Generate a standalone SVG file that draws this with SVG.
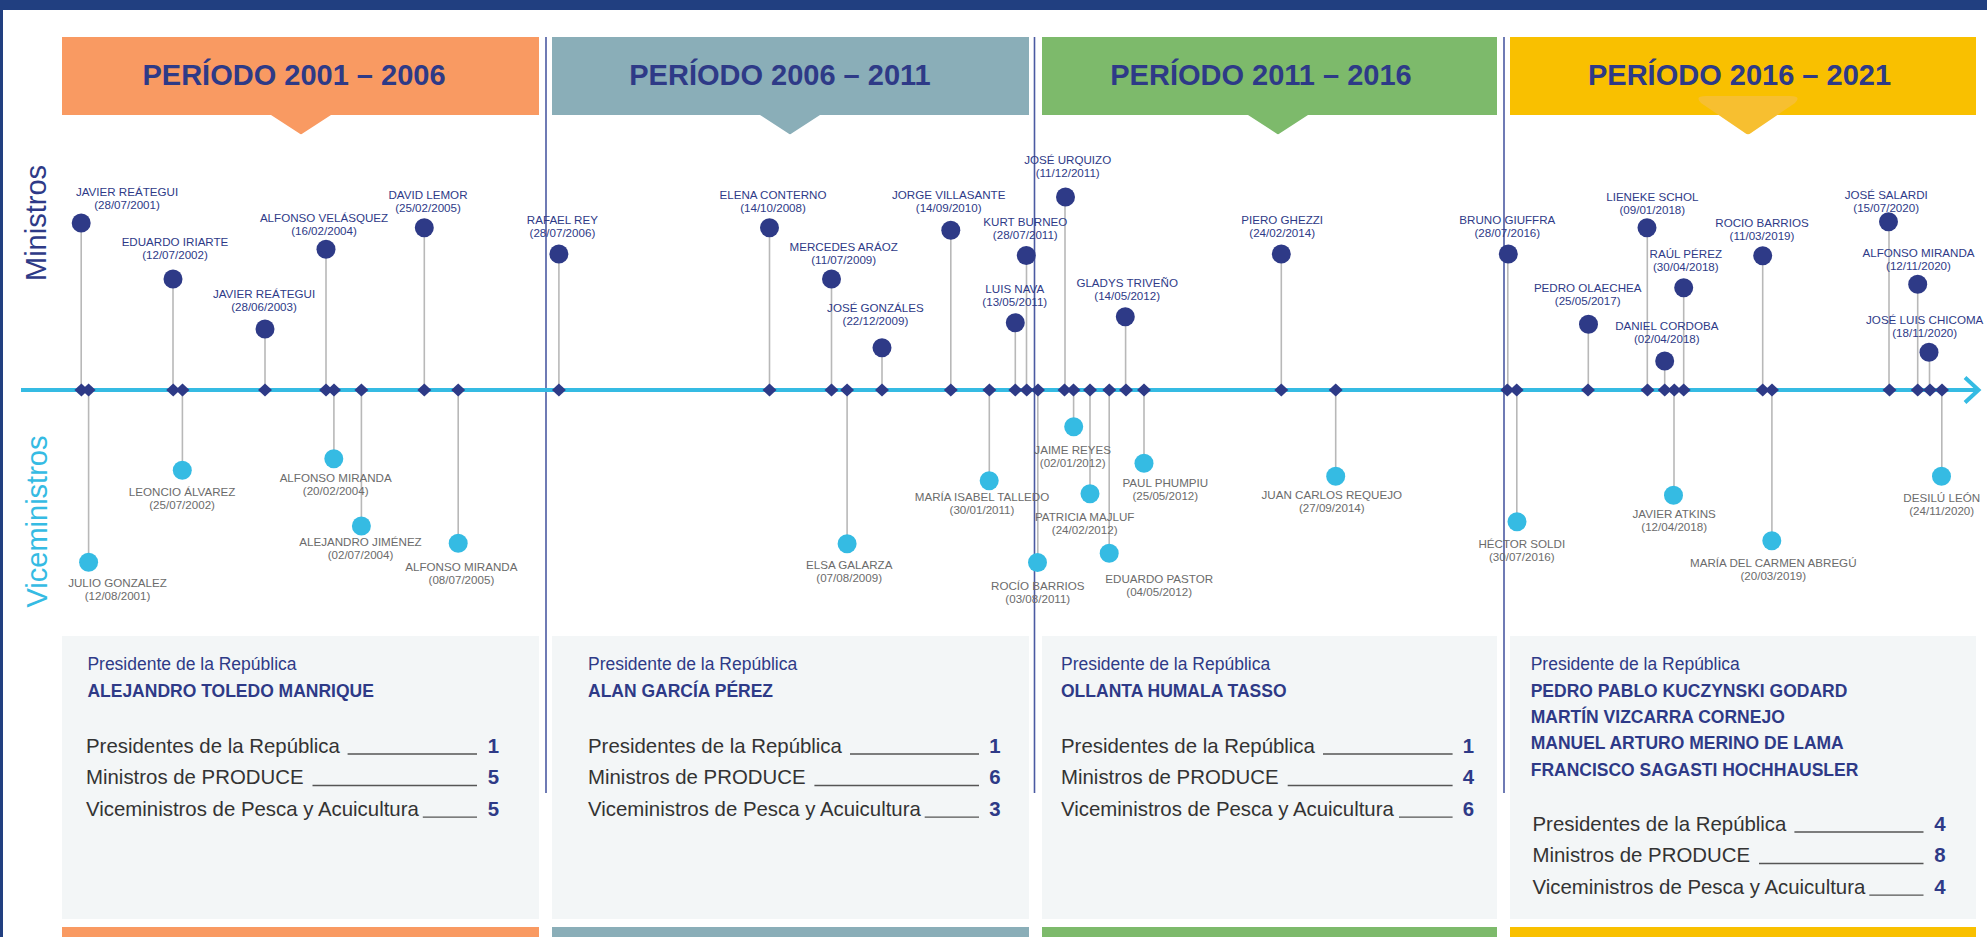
<svg xmlns="http://www.w3.org/2000/svg" xmlns:xlink="http://www.w3.org/1999/xlink" width="1987" height="937" viewBox="0 0 1987 937">
<style>
.hdr{font-family:'Liberation Sans',Arial,sans-serif;font-weight:bold;font-size:29px;fill:#2e3a87;text-anchor:middle}
.side-m{font-family:'Liberation Sans',Arial,sans-serif;font-size:29px;fill:#2e3a87;text-anchor:middle}
.side-v{font-family:'Liberation Sans',Arial,sans-serif;font-size:29px;fill:#35bbe3;text-anchor:middle}
.ml{font-family:'Liberation Sans',Arial,sans-serif;font-size:11.6px;fill:#2e3a87;text-anchor:middle}
.vl{font-family:'Liberation Sans',Arial,sans-serif;font-size:11.6px;fill:#6b6b6b;text-anchor:middle}
.stem{stroke:#b8b8b8;stroke-width:1.6}
.dm{fill:#2e3a87}
.cm{fill:#2e3a87}
.cv{fill:#35bbe3}
.div{stroke:#4b5aa2;stroke-width:1.6}
.pl{font-family:'Liberation Sans',Arial,sans-serif;font-size:17.5px;fill:#2e3a87}
.pn{font-family:'Liberation Sans',Arial,sans-serif;font-weight:bold;font-size:17.5px;fill:#2e3a87}
.st{font-family:'Liberation Sans',Arial,sans-serif;font-size:20.4px;fill:#333333}
.sn{font-family:'Liberation Sans',Arial,sans-serif;font-weight:bold;font-size:20.4px;fill:#2e3a87;text-anchor:middle}
.ul{stroke:#555555;stroke-width:1.3}
.box{fill:#f3f6f7}
</style>
<defs>
<path id="dia" d="M0,-6.5 L7,0 L0,6.5 L-7,0 Z" class="dm"/>
</defs>
<rect x="0" y="0" width="1987" height="937" fill="#ffffff"/>
<rect x="0" y="0" width="1987" height="10" fill="#213f80"/>
<rect x="0" y="0" width="3" height="937" fill="#213f80"/>

<g id="period-headers">
<g id="hdr-2001">
<rect x="62" y="37" width="477" height="78" fill="#f99a62"/>
<path d="M271,115 L331,115 L302.5,133.5 Q301,134.8 299.5,133.5 Z" fill="#f99a62"/>
<text class="hdr" x="294" y="85">PERÍODO 2001 – 2006</text>
</g>
<g id="hdr-2006">
<rect x="552" y="37" width="477" height="78" fill="#8aaeb8"/>
<path d="M760,115 L820,115 L791.5,133.5 Q790,134.8 788.5,133.5 Z" fill="#8aaeb8"/>
<text class="hdr" x="780" y="85">PERÍODO 2006 – 2011</text>
</g>
<g id="hdr-2011">
<rect x="1042" y="37" width="455" height="78" fill="#7dba6b"/>
<path d="M1248,115 L1308,115 L1279.5,133.5 Q1278,134.8 1276.5,133.5 Z" fill="#7dba6b"/>
<text class="hdr" x="1261" y="85">PERÍODO 2011 – 2016</text>
</g>
<g id="hdr-2016">
<rect x="1510" y="37" width="466" height="78" fill="#f9c000"/>
<path d="M1706,96 H1790 Q1802,96 1795,103 L1751,133 Q1748,135.5 1745,133 L1701,103 Q1694,96 1706,96 Z" fill="#f7bf30"/>
<text class="hdr" x="1739.5" y="85">PERÍODO 2016 – 2021</text>
</g>
</g>

<g id="summary-boxes">
<g id="box-2001">
<rect class="box" x="62" y="636" width="477" height="283"/>
<rect x="62" y="927" width="477" height="10" fill="#f99a62"/>
<text class="pl" x="87.4" y="670">Presidente de la República</text>
<text class="pn" x="87.4" y="697.3">ALEJANDRO TOLEDO MANRIQUE</text>
<text class="st" x="86" y="752.7">Presidentes de la República</text>
<text class="st" x="86" y="784.3">Ministros de PRODUCE</text>
<text class="st" x="86" y="816">Viceministros de Pesca y Acuicultura</text>
<line class="ul" x1="347.6" y1="754" x2="477" y2="754"/>
<line class="ul" x1="312.5" y1="785.5" x2="477" y2="785.5"/>
<line class="ul" x1="422.8" y1="817.2" x2="477" y2="817.2"/>
<text class="sn" x="493.5" y="752.7">1</text>
<text class="sn" x="493.5" y="784.3">5</text>
<text class="sn" x="493.5" y="816">5</text>
</g>
<g id="box-2006">
<rect class="box" x="552" y="636" width="477" height="283"/>
<rect x="552" y="927" width="477" height="10" fill="#8aaeb8"/>
<text class="pl" x="588" y="670">Presidente de la República</text>
<text class="pn" x="588" y="697.3">ALAN GARCÍA PÉREZ</text>
<text class="st" x="588" y="752.7">Presidentes de la República</text>
<text class="st" x="588" y="784.3">Ministros de PRODUCE</text>
<text class="st" x="588" y="816">Viceministros de Pesca y Acuicultura</text>
<line class="ul" x1="850" y1="754" x2="979" y2="754"/>
<line class="ul" x1="814.4" y1="785.5" x2="979" y2="785.5"/>
<line class="ul" x1="924.7" y1="817.2" x2="979" y2="817.2"/>
<text class="sn" x="995" y="752.7">1</text>
<text class="sn" x="995" y="784.3">6</text>
<text class="sn" x="995" y="816">3</text>
</g>
<g id="box-2011">
<rect class="box" x="1042" y="636" width="455" height="283"/>
<rect x="1042" y="927" width="455" height="10" fill="#7dba6b"/>
<text class="pl" x="1061" y="670">Presidente de la República</text>
<text class="pn" x="1061" y="697.3">OLLANTA HUMALA TASSO</text>
<text class="st" x="1061" y="752.7">Presidentes de la República</text>
<text class="st" x="1061" y="784.3">Ministros de PRODUCE</text>
<text class="st" x="1061" y="816">Viceministros de Pesca y Acuicultura</text>
<line class="ul" x1="1323" y1="754" x2="1452.6" y2="754"/>
<line class="ul" x1="1287.7" y1="785.5" x2="1452.6" y2="785.5"/>
<line class="ul" x1="1399" y1="817.2" x2="1452.6" y2="817.2"/>
<text class="sn" x="1468.5" y="752.7">1</text>
<text class="sn" x="1468.5" y="784.3">4</text>
<text class="sn" x="1468.5" y="816">6</text>
</g>
<g id="box-2016">
<rect class="box" x="1510" y="636" width="466" height="283"/>
<rect x="1510" y="927" width="466" height="10" fill="#f9c000"/>
<text class="pl" x="1530.7" y="670">Presidente de la República</text>
<text class="pn" x="1530.7" y="697.3">PEDRO PABLO KUCZYNSKI GODARD</text>
<text class="pn" x="1530.7" y="723.3">MARTÍN VIZCARRA CORNEJO</text>
<text class="pn" x="1530.7" y="749.3">MANUEL ARTURO MERINO DE LAMA</text>
<text class="pn" x="1530.7" y="775.7">FRANCISCO SAGASTI HOCHHAUSLER</text>
<text class="st" x="1532.5" y="830.7">Presidentes de la República</text>
<text class="st" x="1532.5" y="862.3">Ministros de PRODUCE</text>
<text class="st" x="1532.5" y="894">Viceministros de Pesca y Acuicultura</text>
<line class="ul" x1="1794.4" y1="832" x2="1923.5" y2="832"/>
<line class="ul" x1="1759" y1="863.5" x2="1923.5" y2="863.5"/>
<line class="ul" x1="1869.3" y1="895.2" x2="1923.5" y2="895.2"/>
<text class="sn" x="1940" y="830.7">4</text>
<text class="sn" x="1940" y="862.3">8</text>
<text class="sn" x="1940" y="894">4</text>
</g>
</g>

<g id="dividers">
<line class="div" x1="546" y1="37" x2="546" y2="793"/>
<line class="div" x1="1034.5" y1="37" x2="1034.5" y2="793"/>
<line class="div" x1="1504" y1="37" x2="1504" y2="793"/>
</g>

<g id="side-labels">
<text class="side-m" transform="translate(46,223) rotate(-90)">Ministros</text>
<text class="side-v" transform="translate(47,521.5) rotate(-90)">Viceministros</text>
</g>

<g id="connectors">
<line x1="21" y1="390" x2="1977" y2="390" stroke="#35bbe3" stroke-width="4"/>
<polyline points="1965,377.5 1978.5,390 1965,402.5" fill="none" stroke="#35bbe3" stroke-width="4" stroke-linejoin="miter"/>
<line class="stem" x1="81.2" y1="223" x2="81.2" y2="390"/>
<line class="stem" x1="173" y1="279" x2="173" y2="390"/>
<line class="stem" x1="265" y1="329" x2="265" y2="390"/>
<line class="stem" x1="326" y1="249.3" x2="326" y2="390"/>
<line class="stem" x1="424.3" y1="227.7" x2="424.3" y2="390"/>
<line class="stem" x1="558.9" y1="254" x2="558.9" y2="390"/>
<line class="stem" x1="769.5" y1="227.7" x2="769.5" y2="390"/>
<line class="stem" x1="831.5" y1="279" x2="831.5" y2="390"/>
<line class="stem" x1="882" y1="347.7" x2="882" y2="390"/>
<line class="stem" x1="950.8" y1="230.3" x2="950.8" y2="390"/>
<line class="stem" x1="1015.3" y1="322.7" x2="1015.3" y2="390"/>
<line class="stem" x1="1026.5" y1="255.5" x2="1026.5" y2="390"/>
<line class="stem" x1="1065" y1="197" x2="1065" y2="390"/>
<line class="stem" x1="1125.6" y1="316.7" x2="1125.6" y2="390"/>
<line class="stem" x1="1281.3" y1="254" x2="1281.3" y2="390"/>
<line class="stem" x1="1507.8" y1="254" x2="1507.8" y2="390"/>
<line class="stem" x1="1588.3" y1="324.3" x2="1588.3" y2="390"/>
<line class="stem" x1="1647.3" y1="227.7" x2="1647.3" y2="390"/>
<line class="stem" x1="1664.7" y1="361" x2="1664.7" y2="390"/>
<line class="stem" x1="1683.7" y1="287.7" x2="1683.7" y2="390"/>
<line class="stem" x1="1762.7" y1="255.7" x2="1762.7" y2="390"/>
<line class="stem" x1="1889" y1="221.7" x2="1889" y2="390"/>
<line class="stem" x1="1917.7" y1="284.3" x2="1917.7" y2="390"/>
<line class="stem" x1="1929.5" y1="352.3" x2="1929.5" y2="390"/>
<line class="stem" x1="88.6" y1="390" x2="88.6" y2="562.3"/>
<line class="stem" x1="182.4" y1="390" x2="182.4" y2="470.3"/>
<line class="stem" x1="333.9" y1="390" x2="333.9" y2="458.7"/>
<line class="stem" x1="361.4" y1="390" x2="361.4" y2="526"/>
<line class="stem" x1="458.2" y1="390" x2="458.2" y2="543.3"/>
<line class="stem" x1="847.1" y1="390" x2="847.1" y2="543.7"/>
<line class="stem" x1="989.3" y1="390" x2="989.3" y2="480.7"/>
<line class="stem" x1="1037.8" y1="390" x2="1037.8" y2="562.5"/>
<line class="stem" x1="1073.6" y1="390" x2="1073.6" y2="426.7"/>
<line class="stem" x1="1090" y1="390" x2="1090" y2="493.7"/>
<line class="stem" x1="1109.2" y1="390" x2="1109.2" y2="553.3"/>
<line class="stem" x1="1144" y1="390" x2="1144" y2="463.3"/>
<line class="stem" x1="1335.7" y1="390" x2="1335.7" y2="476.3"/>
<line class="stem" x1="1516.8" y1="390" x2="1516.8" y2="521.7"/>
<line class="stem" x1="1674" y1="390" x2="1674" y2="495.3"/>
<line class="stem" x1="1771.9" y1="390" x2="1771.9" y2="540.7"/>
<line class="stem" x1="1941.8" y1="390" x2="1941.8" y2="476.3"/>
</g>

<g id="ministros">
<g id="m01"><use xlink:href="#dia" x="81.4" y="390"/><circle class="cm" cx="81.2" cy="223" r="9.5"/><text class="ml" x="127" y="195.5">JAVIER REÁTEGUI</text><text class="ml" x="127" y="208.5">(28/07/2001)</text></g>
<g id="m02"><use xlink:href="#dia" x="173.2" y="390"/><circle class="cm" cx="173" cy="279" r="9.5"/><text class="ml" x="175" y="245.5">EDUARDO IRIARTE</text><text class="ml" x="175" y="258.5">(12/07/2002)</text></g>
<g id="m03"><use xlink:href="#dia" x="265" y="390"/><circle class="cm" cx="265" cy="329" r="9.5"/><text class="ml" x="264" y="297.5">JAVIER REÁTEGUI</text><text class="ml" x="264" y="310.5">(28/06/2003)</text></g>
<g id="m04"><use xlink:href="#dia" x="326" y="390"/><circle class="cm" cx="326" cy="249.3" r="9.5"/><text class="ml" x="324" y="221.5">ALFONSO VELÁSQUEZ</text><text class="ml" x="324" y="234.5">(16/02/2004)</text></g>
<g id="m05"><use xlink:href="#dia" x="424.3" y="390"/><circle class="cm" cx="424.3" cy="227.7" r="9.5"/><text class="ml" x="428" y="199.3">DAVID LEMOR</text><text class="ml" x="428" y="212.3">(25/02/2005)</text></g>
<g id="m06"><use xlink:href="#dia" x="558.9" y="390"/><circle class="cm" cx="558.9" cy="254" r="9.5"/><text class="ml" x="562.4" y="224.3">RAFAEL REY</text><text class="ml" x="562.4" y="237.3">(28/07/2006)</text></g>
<g id="m07"><use xlink:href="#dia" x="769.5" y="390"/><circle class="cm" cx="769.5" cy="227.7" r="9.5"/><text class="ml" x="773" y="199.3">ELENA CONTERNO</text><text class="ml" x="773" y="212.3">(14/10/2008)</text></g>
<g id="m08"><use xlink:href="#dia" x="831.5" y="390"/><circle class="cm" cx="831.5" cy="279" r="9.5"/><text class="ml" x="843.7" y="250.7">MERCEDES ARÁOZ</text><text class="ml" x="843.7" y="263.7">(11/07/2009)</text></g>
<g id="m09"><use xlink:href="#dia" x="882" y="390"/><circle class="cm" cx="882" cy="347.7" r="9.5"/><text class="ml" x="875.4" y="312">JOSÉ GONZÁLES</text><text class="ml" x="875.4" y="325">(22/12/2009)</text></g>
<g id="m10"><use xlink:href="#dia" x="950.8" y="390"/><circle class="cm" cx="950.8" cy="230.3" r="9.5"/><text class="ml" x="948.7" y="199.3">JORGE VILLASANTE</text><text class="ml" x="948.7" y="212.3">(14/09/2010)</text></g>
<g id="m11"><use xlink:href="#dia" x="1015.3" y="390"/><circle class="cm" cx="1015.3" cy="322.7" r="9.5"/><text class="ml" x="1014.8" y="293.3">LUIS NAVA</text><text class="ml" x="1014.8" y="306.3">(13/05/2011)</text></g>
<g id="m12"><use xlink:href="#dia" x="1026.7" y="390"/><circle class="cm" cx="1026.3" cy="255.5" r="9.5"/><text class="ml" x="1025.3" y="226">KURT BURNEO</text><text class="ml" x="1025.3" y="239">(28/07/2011)</text></g>
<g id="m13"><use xlink:href="#dia" x="1064.5" y="390"/><circle class="cm" cx="1065.5" cy="197" r="9.5"/><text class="ml" x="1067.7" y="164.3">JOSÉ URQUIZO</text><text class="ml" x="1067.7" y="177.3">(11/12/2011)</text></g>
<g id="m14"><use xlink:href="#dia" x="1126" y="390"/><circle class="cm" cx="1125.3" cy="316.7" r="9.5"/><text class="ml" x="1127.2" y="286.7">GLADYS TRIVEÑO</text><text class="ml" x="1127.2" y="299.7">(14/05/2012)</text></g>
<g id="m15"><use xlink:href="#dia" x="1281.3" y="390"/><circle class="cm" cx="1281.3" cy="254" r="9.5"/><text class="ml" x="1282.2" y="224.3">PIERO GHEZZI</text><text class="ml" x="1282.2" y="237.3">(24/02/2014)</text></g>
<g id="m16"><use xlink:href="#dia" x="1507.3" y="390"/><circle class="cm" cx="1508.3" cy="254" r="9.5"/><text class="ml" x="1507.3" y="224.3">BRUNO GIUFFRA</text><text class="ml" x="1507.3" y="237.3">(28/07/2016)</text></g>
<g id="m17"><use xlink:href="#dia" x="1588" y="390"/><circle class="cm" cx="1588.5" cy="324.3" r="9.5"/><text class="ml" x="1587.7" y="292">PEDRO OLAECHEA</text><text class="ml" x="1587.7" y="305">(25/05/2017)</text></g>
<g id="m18"><use xlink:href="#dia" x="1647.5" y="390"/><circle class="cm" cx="1647" cy="227.7" r="9.5"/><text class="ml" x="1652.3" y="201.3">LIENEKE SCHOL</text><text class="ml" x="1652.3" y="214.3">(09/01/2018)</text></g>
<g id="m19"><use xlink:href="#dia" x="1664.7" y="390"/><circle class="cm" cx="1664.7" cy="361" r="9.5"/><text class="ml" x="1666.8" y="329.7">DANIEL CORDOBA</text><text class="ml" x="1666.8" y="342.7">(02/04/2018)</text></g>
<g id="m20"><use xlink:href="#dia" x="1683.7" y="390"/><circle class="cm" cx="1683.7" cy="287.7" r="9.5"/><text class="ml" x="1685.8" y="258.3">RAÚL PÉREZ</text><text class="ml" x="1685.8" y="271.3">(30/04/2018)</text></g>
<g id="m21"><use xlink:href="#dia" x="1762.7" y="390"/><circle class="cm" cx="1762.7" cy="255.7" r="9.5"/><text class="ml" x="1762" y="226.7">ROCIO BARRIOS</text><text class="ml" x="1762" y="239.7">(11/03/2019)</text></g>
<g id="m22"><use xlink:href="#dia" x="1889.5" y="390"/><circle class="cm" cx="1888.5" cy="221.7" r="9.5"/><text class="ml" x="1886.2" y="198.7">JOSÉ SALARDI</text><text class="ml" x="1886.2" y="211.7">(15/07/2020)</text></g>
<g id="m23"><use xlink:href="#dia" x="1917.7" y="390"/><circle class="cm" cx="1917.7" cy="284.3" r="9.5"/><text class="ml" x="1918.5" y="256.7">ALFONSO MIRANDA</text><text class="ml" x="1918.5" y="269.7">(12/11/2020)</text></g>
<g id="m24"><use xlink:href="#dia" x="1930" y="390"/><circle class="cm" cx="1929" cy="352.3" r="9.5"/><text class="ml" x="1924.7" y="324.3">JOSÉ LUIS CHICOMA</text><text class="ml" x="1924.7" y="337.3">(18/11/2020)</text></g>
</g>

<g id="viceministros">
<g id="v01"><use xlink:href="#dia" x="88.6" y="390"/><circle class="cv" cx="88.6" cy="562.3" r="9.5"/><text class="vl" x="117.5" y="587.3">JULIO GONZALEZ</text><text class="vl" x="117.5" y="600.3">(12/08/2001)</text></g>
<g id="v02"><use xlink:href="#dia" x="182.5" y="390"/><circle class="cv" cx="182.3" cy="470.3" r="9.5"/><text class="vl" x="182.1" y="496">LEONCIO ÁLVAREZ</text><text class="vl" x="182.1" y="509">(25/07/2002)</text></g>
<g id="v03"><use xlink:href="#dia" x="334" y="390"/><circle class="cv" cx="333.8" cy="458.7" r="9.5"/><text class="vl" x="335.7" y="482">ALFONSO MIRANDA</text><text class="vl" x="335.7" y="495">(20/02/2004)</text></g>
<g id="v04"><use xlink:href="#dia" x="361.4" y="390"/><circle class="cv" cx="361.4" cy="526" r="9.5"/><text class="vl" x="360.5" y="545.7">ALEJANDRO JIMÉNEZ</text><text class="vl" x="360.5" y="558.7">(02/07/2004)</text></g>
<g id="v05"><use xlink:href="#dia" x="458.2" y="390"/><circle class="cv" cx="458.2" cy="543.3" r="9.5"/><text class="vl" x="461.4" y="571">ALFONSO MIRANDA</text><text class="vl" x="461.4" y="584">(08/07/2005)</text></g>
<g id="v06"><use xlink:href="#dia" x="847.1" y="390"/><circle class="cv" cx="847.1" cy="543.7" r="9.5"/><text class="vl" x="849.2" y="569.3">ELSA GALARZA</text><text class="vl" x="849.2" y="582.3">(07/08/2009)</text></g>
<g id="v07"><use xlink:href="#dia" x="989.4" y="390"/><circle class="cv" cx="989.2" cy="480.7" r="9.5"/><text class="vl" x="982" y="501">MARÍA ISABEL TALLEDO</text><text class="vl" x="982" y="514">(30/01/2011)</text></g>
<g id="v08"><use xlink:href="#dia" x="1038" y="390"/><circle class="cv" cx="1037.5" cy="562.5" r="9.5"/><text class="vl" x="1037.8" y="590">ROCÍO BARRIOS</text><text class="vl" x="1037.8" y="603">(03/08/2011)</text></g>
<g id="v09"><use xlink:href="#dia" x="1073.5" y="390"/><circle class="cv" cx="1073.7" cy="426.7" r="9.5"/><text class="vl" x="1072.7" y="454">JAIME REYES</text><text class="vl" x="1072.7" y="467">(02/01/2012)</text></g>
<g id="v10"><use xlink:href="#dia" x="1090" y="390"/><circle class="cv" cx="1090" cy="493.7" r="9.5"/><text class="vl" x="1084.7" y="520.7">PATRICIA MAJLUF</text><text class="vl" x="1084.7" y="533.7">(24/02/2012)</text></g>
<g id="v11"><use xlink:href="#dia" x="1109.3" y="390"/><circle class="cv" cx="1109.2" cy="553.3" r="9.5"/><text class="vl" x="1159.2" y="582.7">EDUARDO PASTOR</text><text class="vl" x="1159.2" y="596">(04/05/2012)</text></g>
<g id="v12"><use xlink:href="#dia" x="1144" y="390"/><circle class="cv" cx="1144" cy="463.3" r="9.5"/><text class="vl" x="1165.3" y="486.7">PAUL PHUMPIU</text><text class="vl" x="1165.3" y="499.7">(25/05/2012)</text></g>
<g id="v13"><use xlink:href="#dia" x="1335.7" y="390"/><circle class="cv" cx="1335.7" cy="476.3" r="9.5"/><text class="vl" x="1331.8" y="499.3">JUAN CARLOS REQUEJO</text><text class="vl" x="1331.8" y="512.3">(27/09/2014)</text></g>
<g id="v14"><use xlink:href="#dia" x="1516.7" y="390"/><circle class="cv" cx="1517" cy="521.7" r="9.5"/><text class="vl" x="1521.8" y="547.7">HÉCTOR SOLDI</text><text class="vl" x="1521.8" y="560.7">(30/07/2016)</text></g>
<g id="v15"><use xlink:href="#dia" x="1674.3" y="390"/><circle class="cv" cx="1673.5" cy="495.3" r="9.5"/><text class="vl" x="1674.2" y="518.3">JAVIER ATKINS</text><text class="vl" x="1674.2" y="531.3">(12/04/2018)</text></g>
<g id="v16"><use xlink:href="#dia" x="1772" y="390"/><circle class="cv" cx="1771.8" cy="540.7" r="9.5"/><text class="vl" x="1773.3" y="566.7">MARÍA DEL CARMEN ABREGÚ</text><text class="vl" x="1773.3" y="579.7">(20/03/2019)</text></g>
<g id="v17"><use xlink:href="#dia" x="1942" y="390"/><circle class="cv" cx="1941.5" cy="476.3" r="9.5"/><text class="vl" x="1941.7" y="502.3">DESILÚ LEÓN</text><text class="vl" x="1941.7" y="515.3">(24/11/2020)</text></g>
</g>
</svg>
